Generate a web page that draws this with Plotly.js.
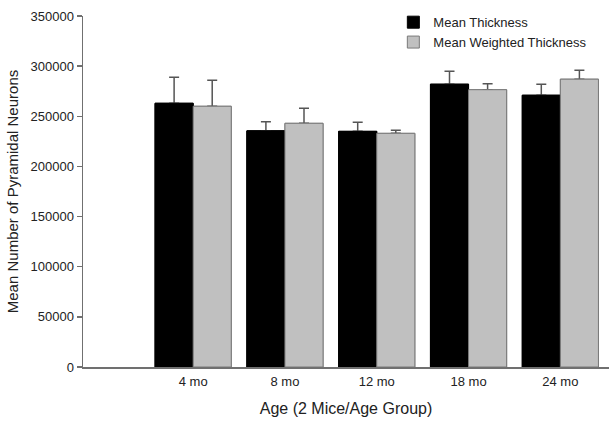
<!DOCTYPE html>
<html>
<head>
<meta charset="utf-8">
<script src="https://cdn.plot.ly/plotly-3.0.1.min.js"></script>
<style>html,body{margin:0;padding:0;background:#fff;}#chart{width:615px;height:421px;}</style>
</head>
<body>
<div id="chart"></div>
<script>
const categories = ["4 mo", "8 mo", "12 mo", "18 mo", "24 mo"];
const meanThickness = [263000, 235500, 235000, 282000, 271000];
const meanThicknessErr = [26000, 9000, 9000, 13000, 11000];
const meanWeighted = [260000, 243000, 233000, 276500, 287000];
const meanWeightedErr = [26000, 15000, 3000, 6000, 9000];
const zeros = categories.map(() => 0);

const blackMarker = {color: '#000000', line: {color: '#000000', width: 1}};
const grayMarker = {color: '#c0c0c0', line: {color: '#7a7a7a', width: 1}};
const errStyle = {type: 'data', symmetric: false, color: '#555555', thickness: 1.5, width: 5};

const traces = [
  {
    type: 'bar', name: 'Mean Thickness', x: categories, y: meanThickness,
    offsetgroup: 'a', marker: blackMarker,
    error_y: Object.assign({array: meanThicknessErr, arrayminus: zeros}, errStyle)
  },
  {
    type: 'bar', name: 'Mean Weighted Thickness', x: categories, y: meanWeighted,
    offsetgroup: 'b', marker: grayMarker,
    error_y: Object.assign({array: meanWeightedErr, arrayminus: zeros}, errStyle)
  },
  // same bars drawn again on top so only the upper half of each error bar shows
  {
    type: 'bar', name: 'Mean Thickness', x: categories, y: meanThickness,
    offsetgroup: 'a', marker: blackMarker, showlegend: false, hoverinfo: 'skip'
  },
  {
    type: 'bar', name: 'Mean Weighted Thickness', x: categories, y: meanWeighted,
    offsetgroup: 'b', marker: grayMarker, showlegend: false, hoverinfo: 'skip'
  }
];

const layout = {
  width: 615, height: 421,
  margin: {l: 83, r: 6, t: 16, b: 54},
  paper_bgcolor: '#ffffff', plot_bgcolor: '#ffffff',
  font: {family: 'Liberation Sans, Arial, sans-serif', size: 13, color: '#222'},
  barmode: 'group', bargap: 0.17, bargroupgap: 0,
  showlegend: true,
  legend: {x: 0.59, y: 1.025, xanchor: 'left', yanchor: 'top', bgcolor: 'rgba(0,0,0,0)',
           font: {size: 13, color: '#222'}, tracegroupgap: 0, itemwidth: 30},
  xaxis: {
    type: 'category', range: [-1.2, 4.53], showgrid: false, zeroline: false,
    showline: true, linecolor: '#707070', linewidth: 1.5, ticks: '', ticklabelstandoff: 2,
    tickfont: {size: 13, color: '#222'},
    title: {text: 'Age (2 Mice/Age Group)', font: {size: 16, color: '#222'}, standoff: 14}
  },
  yaxis: {
    range: [0, 350000], dtick: 50000, tickformat: 'd', showgrid: false, zeroline: false,
    showline: true, linecolor: '#707070', linewidth: 1.5, ticks: 'outside', ticklen: 5,
    tickcolor: '#707070', tickwidth: 1.5, tickfont: {size: 13, color: '#222'},
    title: {text: 'Mean Number of Pyramidal Neurons', font: {size: 15, color: '#222'}, standoff: 8}
  }
};

Plotly.newPlot('chart', traces, layout, {staticPlot: true, displayModeBar: false});
</script>
</body>
</html>
